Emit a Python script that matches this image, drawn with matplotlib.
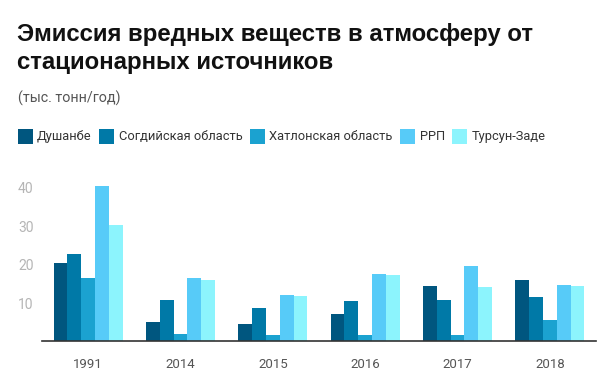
import numpy as np
import matplotlib
matplotlib.use("Agg")
import matplotlib.pyplot as plt
import matplotlib.transforms as mtransforms
from matplotlib.patches import Rectangle

plt.rcParams['font.family'] = ['Roboto', 'DejaVu Sans']

# данные (тыс. тонн/год)
years = ["1991", "2014", "2015", "2016", "2017", "2018"]
series = ["Душанбе", "Согдийская область", "Хатлонская область", "РРП", "Турсун-Заде"]
dushanbe = [20.2, 5.0, 4.5, 7.1, 14.3, 15.8]
sogd = [22.6, 10.7, 8.6, 10.4, 10.7, 11.5]
khatlon = [16.4, 1.9, 1.6, 1.6, 1.6, 5.6]
rrp = [40.1, 16.4, 12.0, 17.4, 19.5, 14.6]
tursunzade = [30.0, 15.8, 11.7, 17.1, 14.0, 14.3]
values = [dushanbe, sogd, khatlon, rrp, tursunzade]
colors = ["#00567f", "#0079a7", "#1ba2d0", "#57cbf8", "#8cf4fd"]

W, H = 602, 386
fig = plt.figure(figsize=(W / 100, H / 100), dpi=100)
fig.patch.set_facecolor("white")

# оси: x от 42 до 596 px, низ на 341 px
ax_l, ax_r, ax_b, ax_t = 42, 596, 341.3, 171
ax = fig.add_axes([ax_l / W, 1 - ax_b / H, (ax_r - ax_l) / W, (ax_b - ax_t) / H])

x = np.arange(len(years))
bw = 0.15
for i, (vals, c) in enumerate(zip(values, colors)):
    ax.bar(x + (i - 2) * bw, vals, width=bw, color=c, linewidth=0)

ax.set_xlim(-0.5, len(years) - 0.5)
ax.set_ylim(0, 44)
ax.set_yticks([10, 20, 30, 40])
ax.set_xticks(x)
ax.set_xticklabels(years)
for s in ["top", "right", "left"]:
    ax.spines[s].set_visible(False)
ax.spines["bottom"].set_color("#333333")
ax.spines["bottom"].set_linewidth(1.2)
ax.tick_params(axis="y", length=0, labelsize=10, labelcolor="#b5b5b5", pad=0)
ax.tick_params(axis="x", length=0, labelsize=9.5, labelcolor="#555555", pad=12)
down = mtransforms.ScaledTranslation(0, -2.5 / 100, fig.dpi_scale_trans)
for lb in ax.get_yticklabels():
    lb.set_horizontalalignment("left")
    lb.set_x(-24 / (ax_r - ax_l))
    lb.set_verticalalignment("center")
    lb.set_transform(lb.get_transform() + down)

# заголовок
title_font = ['Liberation Sans', 'DejaVu Sans']
fig.text(17 / W, 1 - 35 / H, "Эмиссия вредных веществ в атмосферу от",
         fontsize=17.3, fontweight="bold", color="#111111", va="center", family=title_font)
fig.text(17 / W, 1 - 63 / H, "стационарных источников",
         fontsize=17.3, fontweight="bold", color="#111111", va="center", family=title_font)
fig.text(18 / W, 1 - 98 / H, "(тыс. тонн/год)", fontsize=10.3, color="#555555", va="center")

# легенда
fig.canvas.draw()
renderer = fig.canvas.get_renderer()
lx = 17.5
ly = 136.5
sq = 15
for name, c in zip(series, colors):
    fig.patches.append(Rectangle((lx / W, 1 - (ly + sq / 2) / H), sq / W, sq / H,
                                 transform=fig.transFigure, facecolor=c, edgecolor="none"))
    t = fig.text((lx + sq + 4.5) / W, 1 - ly / H, name, fontsize=9.3, color="#333333", va="center")
    bb = t.get_window_extent(renderer)
    lx = bb.x1 + 7.5

fig.savefig("out.png", dpi=100, facecolor="white")
